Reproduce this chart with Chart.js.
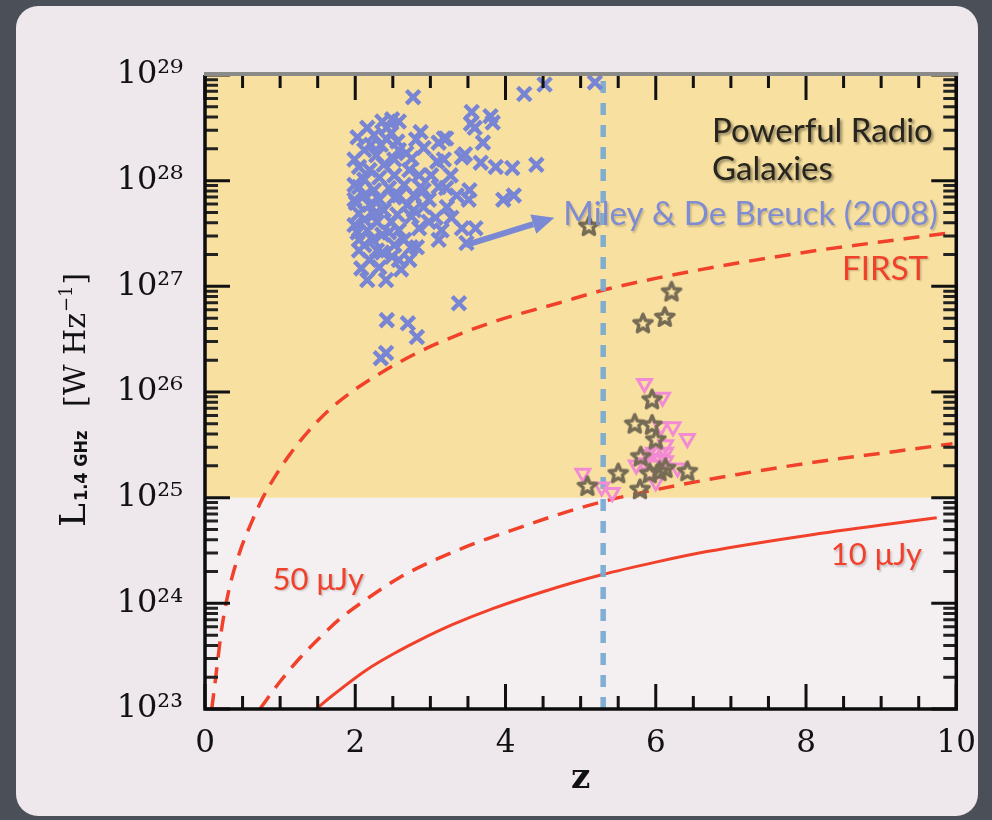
<!DOCTYPE html>
<html><head><meta charset="utf-8">
<script src="https://cdn.jsdelivr.net/npm/chart.js@4.4.1/dist/chart.umd.min.js"></script>
<style>html,body{margin:0;padding:0;background:#4a4f58;}#wrap{width:992px;height:820px;position:relative;}</style>
</head><body><div id="wrap"><canvas id="c"></canvas></div>
<script>
// ---- data (z, log10 L[W/Hz]) ----
const crossZ = [2.77,4.25,4.52,5.19,3.55,3.54,3.59,3.80,3.83,3.70,3.21,3.42,3.67,3.87,4.09,4.41,3.52,3.51,4.11,3.97,3.60,3.42,3.48,2.16,2.41,3.38,2.42,2.70,2.82,2.41,2.34,2.03,2.16,2.36,2.49,2.58,2.48,2.56,2.87,2.81,2.91,3.18,3.11,2.28,2.68,3.09,2.05,3.46,2.05,2.01,2.05,2.03,2.05,2.61,2.58,2.32,2.19,2.74,2.82,3.11,3.15,3.28,3.07,2.91,2.98,3.21,3.22,3.11,2.87,2.75,2.58,2.45,2.23,2.36,2.49,2.12,2.21,2.42,2.52,2.38,2.19,2.32,2.52,2.72,2.85,2.12,1.99,2.25,2.45,2.65,2.78,2.12,2.32,2.52,2.69,1.99,2.19,2.38,2.56,2.12,2.29,2.48,1.99,2.16,2.36,2.12,2.29,2.52,2.65,2.85,2.98,2.78,2.91,3.01,2.58,2.75,1.99,2.42,2.25,3.27,3.35,2.08,2.25,2.58,2.05,2.72,3.18,2.34];
const crossLogL = [28.79,28.82,28.91,28.93,28.65,28.54,28.50,28.61,28.55,28.36,28.40,28.22,28.17,28.13,28.12,28.15,27.91,27.82,27.86,27.82,27.55,27.55,27.41,27.06,27.06,26.84,26.68,26.65,26.52,26.37,26.32,28.41,28.50,28.56,28.58,28.56,28.45,28.37,28.46,28.39,28.31,28.40,28.36,28.24,28.26,28.18,28.13,28.25,27.94,27.79,27.69,27.51,27.34,27.16,27.25,27.18,27.25,27.37,27.37,27.44,27.53,27.65,27.65,27.75,27.82,27.93,27.75,27.94,27.94,27.66,27.53,27.51,27.44,27.32,27.28,28.29,28.34,28.39,28.20,28.15,28.10,28.03,28.05,28.10,28.05,28.01,27.96,27.91,27.93,27.96,27.86,27.86,27.82,27.84,27.77,27.82,27.77,27.72,27.68,27.63,27.61,27.61,27.58,27.53,27.49,27.39,27.34,27.39,27.44,27.55,27.61,27.72,27.91,28.05,28.29,28.21,28.20,28.50,28.43,28.05,27.86,27.17,27.68,27.86,27.44,27.25,28.20,28.34];
const triZ = [5.85,6.09,6.07,6.23,6.42,6.13,6.13,5.97,5.89,6.05,5.97,5.74,5.84,6.13,6.29,6.00,5.03,5.28,5.42];
const triLogL = [26.08,25.95,25.67,25.67,25.56,25.50,25.43,25.43,25.41,25.37,25.31,25.31,25.33,25.35,25.28,25.15,25.23,25.10,25.05];
const starZ = [5.11,6.21,5.83,6.12,5.95,5.72,5.95,6.00,5.80,5.50,5.09,5.92,6.05,6.13,6.42,5.79];
const starLogL = [27.57,26.95,26.65,26.71,25.93,25.70,25.69,25.55,25.39,25.23,25.11,25.23,25.25,25.28,25.25,25.08];
const firstZ = [0.09,0.16,0.22,0.33,0.46,0.64,0.77,0.95,1.13,1.39,1.70,2.05,2.41,2.85,3.40,3.91,4.70,5.28,6.03,7.09,8.15,9.21,9.95];
const firstLogL = [23.00,23.40,23.75,24.16,24.48,24.80,25.00,25.22,25.41,25.64,25.86,26.05,26.21,26.38,26.55,26.68,26.84,26.96,27.08,27.22,27.34,27.44,27.51];
const mu50Z = [0.73,1.00,1.26,1.52,1.79,2.15,2.58,3.09,3.60,4.08,4.70,5.28,6.03,7.09,8.15,9.21,9.95];
const mu50LogL = [23.00,23.26,23.48,23.67,23.85,24.04,24.24,24.42,24.57,24.69,24.84,24.96,25.08,25.22,25.34,25.44,25.51];
const mu10Z = [1.48,1.70,2.15,2.58,2.85,3.30,3.83,4.50,5.28,6.00,6.68,8.08,9.74];
const mu10LogL = [23.00,23.13,23.37,23.55,23.65,23.80,23.95,24.11,24.27,24.39,24.49,24.65,24.81];
const cutZ = 5.3;
const bandLogL = [25, 29];
const xTicks = [0,2,4,6,8,10];
const yTickExps = [23,24,25,26,27,28,29];

const pts = (zs, ls) => zs.map((z,i)=>({x:z, y:Math.pow(10, ls[i])}));
const SUP = {'0':'⁰','1':'¹','2':'²','3':'³','4':'⁴','5':'⁵','6':'⁶','7':'⁷','8':'⁸','9':'⁹'};

function makeStar(){
  const c=document.createElement('canvas'); c.width=c.height=26;
  const g=c.getContext('2d'); g.translate(13,13.5); g.beginPath();
  for(let i=0;i<10;i++){const r=i%2?4.3:9.6; const a=-Math.PI/2+i*Math.PI/5; g.lineTo(r*Math.cos(a), r*Math.sin(a));}
  g.closePath(); g.lineWidth=3.4; g.lineJoin='round'; g.strokeStyle='#766b55'; g.stroke();
  return c;
}
const starImg = makeStar();

const RED = '#f1412b';

const decor = {
  id:'decor',
  beforeDraw(chart){
    const ctx=chart.ctx, ca=chart.chartArea, ys=chart.scales.y;
    ctx.save();
    ctx.fillStyle='#4a4f58'; ctx.fillRect(0,0,chart.width,chart.height);
    ctx.fillStyle='#eee7eb';
    ctx.beginPath(); ctx.roundRect(16,6,962,810,22); ctx.fill();
    ctx.fillStyle='#f4f0f2'; ctx.fillRect(ca.left,ca.top,ca.right-ca.left,ca.bottom-ca.top);
    const yb0=ys.getPixelForValue(Math.pow(10,bandLogL[0])), yb1=ys.getPixelForValue(Math.pow(10,bandLogL[1]));
    ctx.fillStyle='#f8e1a0'; ctx.fillRect(ca.left,yb1,ca.right-ca.left,yb0-yb1);
    ctx.restore();
  },
  afterDatasetsDraw(chart){
    const ctx=chart.ctx, ca=chart.chartArea, xs=chart.scales.x, ys=chart.scales.y;
    const P=(z,l)=>[xs.getPixelForValue(z), ys.getPixelForValue(Math.pow(10,l))];
    ctx.save();
    // ticks
    ctx.lineCap='butt';
    ctx.strokeStyle='#111'; ctx.lineWidth=3;
    for(let v=0; v<=10.001; v+=0.5){
      const x=xs.getPixelForValue(v); const major=Math.abs(v/2-Math.round(v/2))<1e-6; const L=major?25:13;
      ctx.beginPath(); ctx.moveTo(x,ca.bottom); ctx.lineTo(x,ca.bottom-L); ctx.moveTo(x,ca.top); ctx.lineTo(x,ca.top+L); ctx.stroke();
    }
    for(let e=23;e<=29;e++){
      for(let k=1;k<=9;k++){
        if(e===29 && k>1) break;
        const y=ys.getPixelForValue(k*Math.pow(10,e)); const L=k===1?25:13;
        ctx.strokeStyle=k===1?'#111':'#222';
        ctx.beginPath(); ctx.moveTo(ca.left,y); ctx.lineTo(ca.left+L,y); ctx.moveTo(ca.right,y); ctx.lineTo(ca.right-L,y); ctx.stroke();
      }
    }
    // axis frame
    ctx.lineWidth=3.5; ctx.strokeStyle='#0c0c0c';
    ctx.beginPath(); ctx.moveTo(ca.left,ca.top); ctx.lineTo(ca.left,ca.bottom); ctx.lineTo(ca.right,ca.bottom); ctx.lineTo(ca.right,ca.top); ctx.stroke();
    ctx.strokeStyle='#8a8a88'; ctx.lineWidth=4;
    ctx.beginPath(); ctx.moveTo(ca.left-1,ca.top-1); ctx.lineTo(ca.right+2,ca.top-1); ctx.stroke();
    // arrow
    const a0=P(3.47,27.39), a1=P(4.65,27.65);
    const ang=Math.atan2(a1[1]-a0[1],a1[0]-a0[0]);
    const hl=22, hw=10;
    const bx=a1[0]-hl*Math.cos(ang), by=a1[1]-hl*Math.sin(ang);
    ctx.strokeStyle='#7b88d3'; ctx.fillStyle='#7b88d3'; ctx.lineWidth=6;
    ctx.beginPath(); ctx.moveTo(a0[0],a0[1]); ctx.lineTo(bx,by); ctx.stroke();
    ctx.beginPath(); ctx.moveTo(a1[0],a1[1]);
    ctx.lineTo(bx+hw*Math.sin(ang), by-hw*Math.cos(ang));
    ctx.lineTo(bx-hw*Math.sin(ang), by+hw*Math.cos(ang)); ctx.closePath(); ctx.fill();
    // annotation texts
    ctx.textBaseline='alphabetic'; ctx.textAlign='left';
    ctx.font='33px Lato';
    ctx.shadowColor='rgba(0,0,0,0.45)'; ctx.shadowBlur=3; ctx.shadowOffsetX=2; ctx.shadowOffsetY=2;
    ctx.fillStyle='#27251e';
    let p=P(6.75,28.37); ctx.fillText('Powerful Radio',p[0],p[1]);
    p=P(6.75,28.01); ctx.fillText('Galaxies',p[0],p[1]);
    ctx.shadowColor='rgba(0,0,0,0.2)'; ctx.shadowBlur=2; ctx.shadowOffsetX=1.5; ctx.shadowOffsetY=1.5;
    ctx.fillStyle='#7f8bd3';
    p=P(4.77,27.58); ctx.fillText('Miley & De Breuck (2008)',p[0],p[1]);
    ctx.fillStyle=RED;
    p=P(8.48,27.06); ctx.fillText('FIRST',p[0],p[1]);
    ctx.font='31px Lato';
    p=P(0.90,24.13); ctx.fillText('50 μJy',p[0],p[1]);
    p=P(8.33,24.36); ctx.fillText('10 μJy',p[0],p[1]);
    ctx.restore();
  },
  afterDraw(chart){
    const ctx=chart.ctx;
    ctx.save();
    ctx.translate(85,527); ctx.rotate(-Math.PI/2);
    ctx.fillStyle='#111'; ctx.textBaseline='alphabetic'; ctx.textAlign='left';
    let x=0;
    ctx.font='36px "DejaVu Serif"'; ctx.fillText('L',x,0); x+=ctx.measureText('L').width+2;
    ctx.font='bold 18px "DejaVu Sans Condensed", "DejaVu Sans"'; ctx.fillText('1.4 GHz',x,2);
    x=120;
    ctx.font='30px "DejaVu Serif"'; ctx.fillText('[W Hz',x,0); x+=ctx.measureText('[W Hz').width+1;
    ctx.font='18px "DejaVu Serif"'; ctx.fillText('−1',x,-13); x+=ctx.measureText('−1').width+1;
    ctx.font='30px "DejaVu Serif"'; ctx.fillText(']',x,0);
    ctx.restore();
  }
};

new Chart(document.getElementById('c'), {
  type:'scatter',
  data:{datasets:[
    {label:'HzRG stars', data:pts(starZ,starLogL), pointStyle:starImg, order:0},
    {label:'triangles', data:pts(triZ,triLogL), pointStyle:'triangle', rotation:180, radius:8, borderWidth:3, borderColor:'#f28bd3', backgroundColor:'rgba(0,0,0,0)', order:1},
    {label:'Miley & De Breuck (2008)', data:pts(crossZ,crossLogL), pointStyle:'crossRot', radius:9.5, borderWidth:4.4, borderColor:'#7885d4', backgroundColor:'#7885d4', order:2},
    {label:'z cut', data:[{x:cutZ,y:1e23},{x:cutZ,y:1e29}], showLine:true, pointRadius:0, borderColor:'rgba(122,170,210,0.95)', borderWidth:5.5, borderDash:[12,10], order:3},
    {label:'FIRST', data:pts(firstZ,firstLogL), showLine:true, pointRadius:0, borderColor:RED, borderWidth:3.5, borderDash:[16,10], cubicInterpolationMode:'monotone', order:4},
    {label:'50 μJy', data:pts(mu50Z,mu50LogL), showLine:true, pointRadius:0, borderColor:RED, borderWidth:3.5, borderDash:[16,10], cubicInterpolationMode:'monotone', order:5},
    {label:'10 μJy', data:pts(mu10Z,mu10LogL), showLine:true, pointRadius:0, borderColor:RED, borderWidth:3, cubicInterpolationMode:'monotone', order:6}
  ]},
  options:{
    responsive:true, maintainAspectRatio:false, animation:false, devicePixelRatio:1,
    layout:{padding:{left:20, top:75, right:32, bottom:16}},
    plugins:{legend:{display:false}, tooltip:{enabled:false}},
    scales:{
      x:{type:'linear', min:0, max:10,
        afterBuildTicks:(s)=>{s.ticks=xTicks.map(v=>({value:v}));},
        afterFit:(s)=>{s.height=95;},
        grid:{display:false, drawTicks:false}, border:{display:false},
        ticks:{color:'#111', font:{family:'DejaVu Serif', size:31}, padding:16, maxRotation:0, autoSkip:false},
        title:{display:true, text:'z', color:'#111', font:{family:'DejaVu Serif', size:34, weight:'bold'}, padding:{top:0,bottom:4}}
      },
      y:{type:'logarithmic', min:1e23, max:1e29,
        afterBuildTicks:(s)=>{s.ticks=yTickExps.map(e=>({value:Math.pow(10,e)}));},
        afterFit:(s)=>{s.width=185;},
        grid:{display:false, drawTicks:false}, border:{display:false},
        ticks:{color:'#111', font:{family:'DejaVu Serif', size:32}, padding:22, autoSkip:false,
          callback:(v)=>{const e=Math.round(Math.log10(v)); return '10'+String(e).split('').map(c=>SUP[c]).join('');}}
      }
    }
  },
  plugins:[decor]
});
</script></body></html>
